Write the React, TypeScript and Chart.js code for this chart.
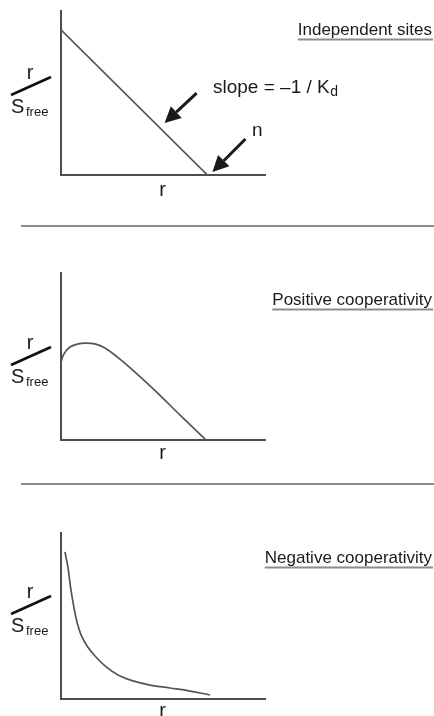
import React, { useEffect, useRef } from "react";
import { Chart, registerables } from "chart.js";

Chart.register(...registerables);

// Shared axis ranges (binding ratio r, and r / S_free)
const R_MAX = 1.4;
const Y_MAX = 1.13;

// Independent sites: straight Scatchard line from n/Kd down to n
const independentR = [0, 1];
const independentY = [1, 0];

// Positive cooperativity: rises to a maximum, then falls to n
const positiveR = [0, 0.02, 0.061, 0.116, 0.164, 0.232, 0.3, 0.417, 0.526, 0.676, 0.833, 0.99];
const positiveY = [0.528, 0.582, 0.629, 0.65, 0.656, 0.65, 0.622, 0.535, 0.44, 0.302, 0.149, 0];

// Negative cooperativity: concave-up decay
const negativeR = [0.027, 0.048, 0.068, 0.089, 0.109, 0.137, 0.178, 0.232, 0.3, 0.389, 0.492, 0.608, 0.744, 0.881, 1.018];
const negativeY = [1.001, 0.892, 0.742, 0.619, 0.524, 0.436, 0.361, 0.293, 0.225, 0.163, 0.123, 0.095, 0.075, 0.054, 0.027];

const panelTitles = ["Independent sites", "Positive cooperativity", "Negative cooperativity"];
const axisLabelX = "r";
const axisLabelNum = "r";
const axisLabelDen = "S";
const axisLabelDenSub = "free";
const slopeText = "slope = \u20131 / K";
const slopeTextSub = "d";
const interceptText = "n";
const slopeArrowR = 0.67; // where the slope arrow points along the line
const interceptR = 1; // n, the x-intercept

const FONT = "'Liberation Sans', Arial, Helvetica, sans-serif";
const INK = "#1a1a1a";
const AXIS = "#4d4d4d";
const CURVE = "#555555";
const RULE = "#8c8c8c";

type Spec = {
  top: number;
  height: number;
  plotTop: number;
  plotBottom: number;
  rs: number[];
  ys: number[];
  smooth: boolean;
  title: string;
  titleY: number;
  yLabelMid: number;
  xLabelY: number;
  divider: boolean;
  annotate?: boolean;
};

const PLOT_LEFT = 61;
const PLOT_RIGHT = 266;
const WIDTH = 434;

const specs: Spec[] = [
  {
    top: 0, height: 222, plotTop: 11, plotBottom: 175,
    rs: independentR, ys: independentY, smooth: false,
    title: panelTitles[0], titleY: 30, yLabelMid: 86, xLabelY: 190,
    divider: false, annotate: true,
  },
  {
    top: 222, height: 258, plotTop: 273, plotBottom: 440,
    rs: positiveR, ys: positiveY, smooth: true,
    title: panelTitles[1], titleY: 300, yLabelMid: 356, xLabelY: 453,
    divider: true,
  },
  {
    top: 480, height: 236, plotTop: 533, plotBottom: 699,
    rs: negativeR, ys: negativeY, smooth: true,
    title: panelTitles[2], titleY: 558, yLabelMid: 605, xLabelY: 711,
    divider: true,
  },
];

function drawArrow(ctx: CanvasRenderingContext2D, tx: number, ty: number, fx: number, fy: number) {
  const ang = Math.atan2(ty - fy, tx - fx);
  const headLen = 16;
  const headHalf = 8;
  const bx = tx - headLen * Math.cos(ang);
  const by = ty - headLen * Math.sin(ang);
  ctx.save();
  ctx.strokeStyle = INK;
  ctx.fillStyle = INK;
  ctx.lineWidth = 3;
  ctx.beginPath();
  ctx.moveTo(fx, fy);
  ctx.lineTo(bx, by);
  ctx.stroke();
  ctx.beginPath();
  ctx.moveTo(tx, ty);
  ctx.lineTo(bx + headHalf * Math.sin(ang), by - headHalf * Math.cos(ang));
  ctx.lineTo(bx - headHalf * Math.sin(ang), by + headHalf * Math.cos(ang));
  ctx.closePath();
  ctx.fill();
  ctx.restore();
}

function Panel({ spec }: { spec: Spec }) {
  const ref = useRef<HTMLCanvasElement | null>(null);

  useEffect(() => {
    const canvas = ref.current;
    if (!canvas) return;
    const off = spec.top;

    const frame = {
      id: "scatchardFrame",
      beforeDatasetsDraw(chart: any) {
        const { ctx, chartArea } = chart;
        ctx.save();
        ctx.strokeStyle = AXIS;
        ctx.lineWidth = 2;
        ctx.beginPath();
        ctx.moveTo(chartArea.left, chartArea.top - 1);
        ctx.lineTo(chartArea.left, chartArea.bottom);
        ctx.lineTo(chartArea.right, chartArea.bottom);
        ctx.stroke();
        ctx.restore();
      },
      afterDraw(chart: any) {
        const { ctx, chartArea } = chart;
        const xs = chart.scales.x;
        const ysc = chart.scales.y;
        ctx.save();

        if (spec.divider) {
          ctx.strokeStyle = RULE;
          ctx.lineWidth = 2;
          ctx.beginPath();
          ctx.moveTo(21, 4);
          ctx.lineTo(WIDTH, 4);
          ctx.stroke();
        }

        // panel title, right aligned and underlined
        ctx.fillStyle = INK;
        ctx.font = `17px ${FONT}`;
        ctx.textAlign = "right";
        ctx.textBaseline = "middle";
        const tY = spec.titleY - off;
        ctx.fillText(spec.title, 432, tY);
        const tw = ctx.measureText(spec.title).width;
        ctx.strokeStyle = RULE;
        ctx.lineWidth = 1.8;
        ctx.beginPath();
        ctx.moveTo(432 - tw, tY + 9.5);
        ctx.lineTo(433, tY + 9.5);
        ctx.stroke();

        // x axis label
        ctx.textAlign = "center";
        ctx.font = `20px ${FONT}`;
        ctx.fillText(axisLabelX, (chartArea.left + chartArea.right) / 2 - 1, spec.xLabelY - off);

        // y axis label: r / S_free
        const mid = spec.yLabelMid - off;
        ctx.fillText(axisLabelNum, 30, mid - 13);
        ctx.strokeStyle = "#111";
        ctx.lineWidth = 2.6;
        ctx.beginPath();
        ctx.moveTo(11, mid + 9);
        ctx.lineTo(51, mid - 9);
        ctx.stroke();
        ctx.textAlign = "left";
        ctx.font = `20px ${FONT}`;
        ctx.fillText(axisLabelDen, 11, mid + 21);
        ctx.font = `13px ${FONT}`;
        ctx.fillText(axisLabelDenSub, 26, mid + 26);

        if (spec.annotate) {
          // slope arrow aimed at the line
          const lx = xs.getPixelForValue(slopeArrowR);
          const ly = ysc.getPixelForValue(1 - slopeArrowR);
          const tipX = lx + 5.5;
          const tipY = ly - 4;
          drawArrow(ctx, tipX, tipY, tipX + 32, tipY - 30);

          ctx.fillStyle = INK;
          ctx.font = `19px ${FONT}`;
          ctx.textAlign = "left";
          ctx.fillText(slopeText, 213, 88 - off);
          const sw = ctx.measureText(slopeText).width;
          ctx.font = `14px ${FONT}`;
          ctx.fillText(slopeTextSub, 213 + sw + 0.5, 92 - off);

          // intercept arrow aimed at n
          const nx = xs.getPixelForValue(interceptR);
          const ny = ysc.getPixelForValue(0);
          const t2x = nx + 5;
          const t2y = ny - 3;
          drawArrow(ctx, t2x, t2y, t2x + 33, t2y - 33);
          ctx.font = `19px ${FONT}`;
          ctx.fillText(interceptText, 252, 131 - off);
        }
        ctx.restore();
      },
    };

    const chart = new Chart(canvas, {
      type: "scatter",
      data: {
        datasets: [
          {
            data: spec.rs.map((r, i) => ({ x: r, y: spec.ys[i] })),
            showLine: true,
            borderColor: CURVE,
            borderWidth: 1.7,
            pointRadius: 0,
            tension: spec.smooth ? 0.4 : 0,
            fill: false,
          },
        ],
      },
      options: {
        animation: false,
        responsive: false,
        maintainAspectRatio: false,
        devicePixelRatio: 1,
        layout: {
          padding: {
            left: PLOT_LEFT,
            right: WIDTH - PLOT_RIGHT,
            top: spec.plotTop - off,
            bottom: spec.top + spec.height - spec.plotBottom,
          },
        },
        plugins: { legend: { display: false }, tooltip: { enabled: false } },
        scales: {
          x: { type: "linear", display: false, min: 0, max: R_MAX },
          y: { type: "linear", display: false, min: 0, max: Y_MAX },
        },
      },
      plugins: [frame],
    } as any);

    return () => chart.destroy();
  }, [spec]);

  return (
    <canvas
      ref={ref}
      width={WIDTH}
      height={spec.height}
      style={{ position: "absolute", left: 0, top: spec.top, width: WIDTH, height: spec.height }}
    />
  );
}

export default function App() {
  return (
    <div style={{ position: "fixed", left: 0, top: 0, width: WIDTH, height: 716, background: "#fff" }}>
      {specs.map((s, i) => (
        <Panel key={i} spec={s} />
      ))}
    </div>
  );
}
